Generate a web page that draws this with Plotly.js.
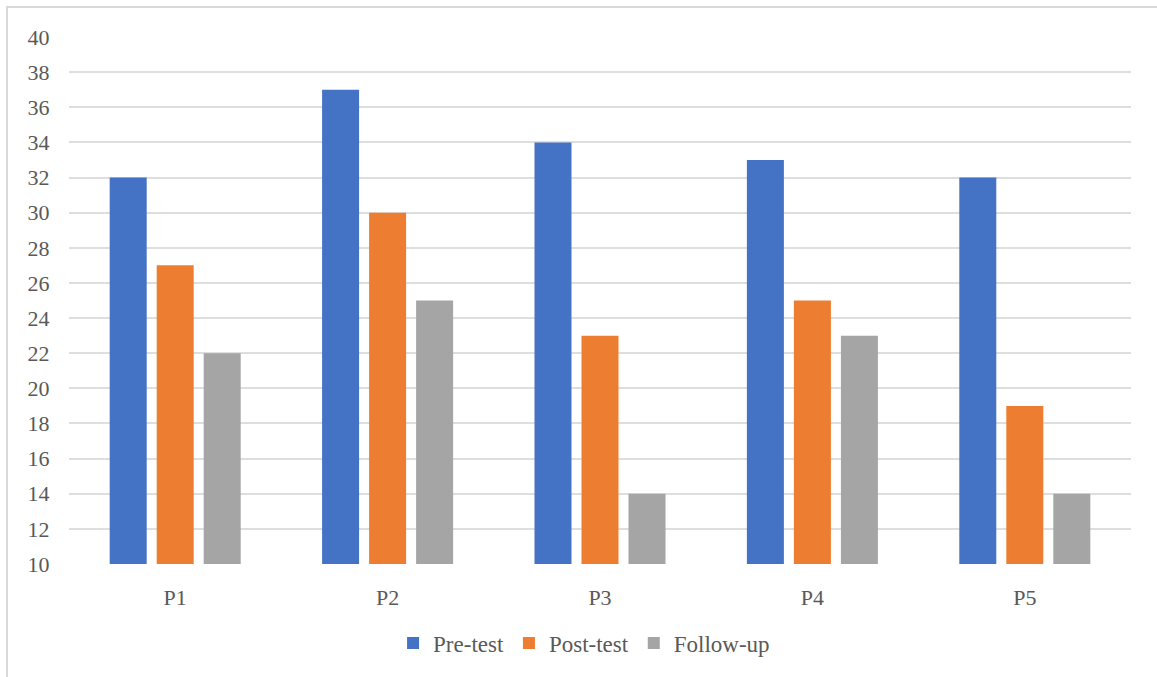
<!DOCTYPE html>
<html>
<head>
<meta charset="utf-8">
<script src="https://cdn.plot.ly/plotly-3.0.1.min.js"></script>
<style>
html,body{margin:0;padding:0;background:#fff;overflow:hidden;}
#wrap{position:relative;width:1157px;height:677px;}
#chart{position:absolute;left:0;top:0;width:1157px;height:677px;}
#frame{position:absolute;left:6px;top:6px;width:1200px;height:720px;border:2px solid #d9d9d9;pointer-events:none;box-sizing:border-box;}
</style>
</head>
<body>
<div id="wrap"><div id="chart"></div><div id="frame"></div></div>
<script>
const categories = ['P1','P2','P3','P4','P5'];
const preTest = [32, 37, 34, 33, 32];
const postTest = [27, 30, 23, 25, 19];
const followUp = [22, 25, 14, 23, 14];
const seriesNames = ['Pre-test','Post-test','Follow-up'];
const yTicks = [10,12,14,16,18,20,22,24,26,28,30,32,34,36,38,40];

const colors = ['#4472C4','#ED7D31','#A5A5A5'];
const values = [preTest, postTest, followUp];
const fam = 'Liberation Serif, Times New Roman, serif';
const font = {family:fam, color:'#595959', size:22};
const legFont = {family:fam, color:'#595959', size:23};

const data = values.map((v,i)=>({
  type:'bar', x:categories, y:v, name:seriesNames[i],
  marker:{color:colors[i], line:{width:0}}, hoverinfo:'none'
}));

const layout = {
  width:1157, height:677,
  margin:{l:69, r:26, t:37, b:113},
  paper_bgcolor:'rgba(0,0,0,0)', plot_bgcolor:'#fff',
  barmode:'group', bargap:0.336, bargroupgap:0.213,
  font:font,
  showlegend:true,
  legend:{orientation:'h', x:0.485, xanchor:'center', y:-0.15, yanchor:'middle', font:legFont, itemwidth:30, traceorder:'normal'},
  xaxis:{type:'category', showgrid:false, zeroline:false, showline:false,
    ticks:'outside', ticklen:14, tickcolor:'rgba(0,0,0,0)', tickfont:font},
  yaxis:{range:[10,40], tickvals:yTicks, ticktext:yTicks.map(String), showgrid:true, gridcolor:'#dedede', gridwidth:2,
    zeroline:false, showline:false, ticks:'outside', ticklen:14, tickcolor:'rgba(0,0,0,0)', tickfont:font}
};

Plotly.newPlot('chart', data, layout, {displayModeBar:false, staticPlot:true});
</script>
</body>
</html>
